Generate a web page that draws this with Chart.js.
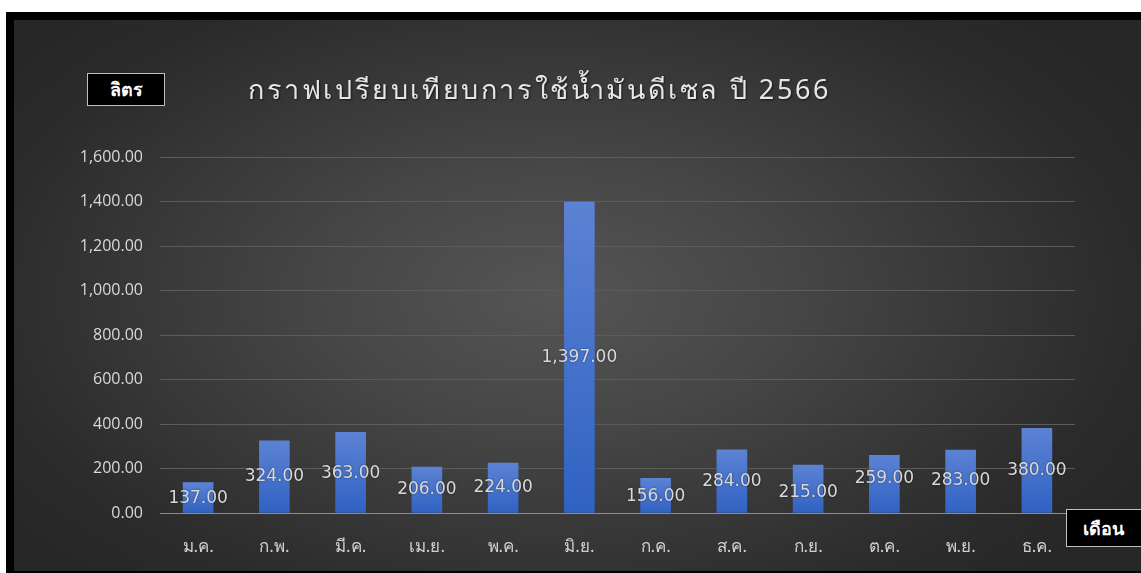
<!DOCTYPE html>
<html>
<head>
<meta charset="utf-8">
<script src="https://cdn.jsdelivr.net/npm/chart.js@4/dist/chart.umd.min.js"></script>
<style>
  html, body { margin: 0; padding: 0; background: #fff; }
  #page { position: relative; width: 1141px; height: 573px; overflow: hidden; }
  #frame { position: absolute; left: 6px; top: 12px; right: 0; bottom: 0; background: #000; }
  #inner { position: absolute; left: 14px; top: 20px; right: 0; bottom: 2px;
    background: radial-gradient(ellipse 60% 70% at 48% 50%, #555555 0%, #464646 35%, #2b2b2b 85%, #272727 100%); }
  #wrap { position: absolute; left: 0; top: 0; width: 1141px; height: 573px; }
  #title { position: absolute; left: 248px; top: 68px; font-family: "Noto Sans", "DejaVu Sans", sans-serif;
    font-size: 27px; letter-spacing: 2.6px; color: #e6e6e6; white-space: nowrap;
    text-shadow: 1px 1px 2px rgba(0,0,0,0.6); }
  .box { position: absolute; background: #000; border: 1px solid #bfbfbf; color: #fff;
    font-family: "Noto Sans", "DejaVu Sans", sans-serif; font-weight: bold; font-size: 18px;
    box-sizing: border-box; }
  #unitY { left: 87px; top: 73px; width: 78px; height: 33px; text-align: center; line-height: 31px; }
  #unitX { left: 1066px; top: 509px; width: 90px; height: 38px; padding-left: 16px; line-height: 36px; }
</style>
</head>
<body>
<div id="page">
  <div id="frame"></div>
  <div id="inner"></div>
  <div id="wrap"><canvas id="dieselChart"></canvas></div>
  <div id="title">กราฟเปรียบเทียบการใช้น้ำมันดีเซล ปี 2566</div>
  <div class="box" id="unitY">ลิตร</div>
  <div class="box" id="unitX">เดือน</div>
</div>
<script>
const months = ['ม.ค.', 'ก.พ.', 'มี.ค.', 'เม.ย.', 'พ.ค.', 'มิ.ย.', 'ก.ค.', 'ส.ค.', 'ก.ย.', 'ต.ค.', 'พ.ย.', 'ธ.ค.'];
const litres = [137, 324, 363, 206, 224, 1397, 156, 284, 215, 259, 283, 380];
const yTicks = [0, 200, 400, 600, 800, 1000, 1200, 1400, 1600];

// how far (px) each value label sits below the top of its bar, as in the picture
const labelNudge = [16, 36, 41, 22, 24, 155, 18, 32, 27, 23, 31, 42];

function fmt(v) {
  return v.toLocaleString('en-US', { minimumFractionDigits: 2, maximumFractionDigits: 2 });
}

const valueLabels = {
  id: 'valueLabels',
  afterDatasetsDraw(chart) {
    const ctx = chart.ctx;
    const meta = chart.getDatasetMeta(0);
    ctx.save();
    ctx.font = '17px "DejaVu Sans", sans-serif';
    ctx.fillStyle = '#d9d9d9';
    ctx.textAlign = 'center';
    ctx.textBaseline = 'middle';
    ctx.shadowColor = 'rgba(0,0,0,0.5)';
    ctx.shadowBlur = 2;
    meta.data.forEach(function (bar, i) {
      ctx.fillText(fmt(litres[i]), bar.x, bar.y + labelNudge[i]);
    });
    ctx.restore();
  }
};

function barFill(c) {
  const chart = c.chart;
  if (!chart.chartArea) return '#4472c4';
  const y = chart.scales.y;
  const top = y.getPixelForValue(c.raw);
  const base = y.getPixelForValue(0);
  const g = chart.ctx.createLinearGradient(0, top, 0, base);
  g.addColorStop(0, '#5c82d4');
  g.addColorStop(1, '#3062c2');
  return g;
}

new Chart(document.getElementById('dieselChart'), {
  type: 'bar',
  data: {
    labels: months,
    datasets: [{
      data: litres,
      backgroundColor: barFill,
      borderWidth: 0,
      barThickness: 30
    }]
  },
  options: {
    responsive: true,
    maintainAspectRatio: false,
    animation: false,
    layout: { padding: { left: 0, right: 66, top: 157, bottom: 0 } },
    plugins: { legend: { display: false }, tooltip: { enabled: false } },
    scales: {
      x: {
        grid: { display: false },
        border: { color: '#8c8c8c', width: 1 },
        ticks: {
          color: '#d0d0d0',
          padding: 16,
          font: { family: '"Noto Sans", "DejaVu Sans", sans-serif', size: 17 }
        },
        afterFit(scale) { scale.height = 60; }
      },
      y: {
        min: 0,
        max: 1600,
        afterBuildTicks(scale) { scale.ticks = yTicks.map(v => ({ value: v })); },
        grid: {
          color: c => c.tick && c.tick.value === 0 ? 'rgba(0,0,0,0)' : '#5c5c5c',
          drawTicks: false
        },
        border: { display: false },
        ticks: {
          color: '#d9d9d9',
          padding: 17,
          font: { family: '"Open Sans", sans-serif', size: 16 },
          callback: v => fmt(v)
        },
        afterFit(scale) { scale.width = 160; }
      }
    }
  },
  plugins: [valueLabels]
});
</script>
</body>
</html>
